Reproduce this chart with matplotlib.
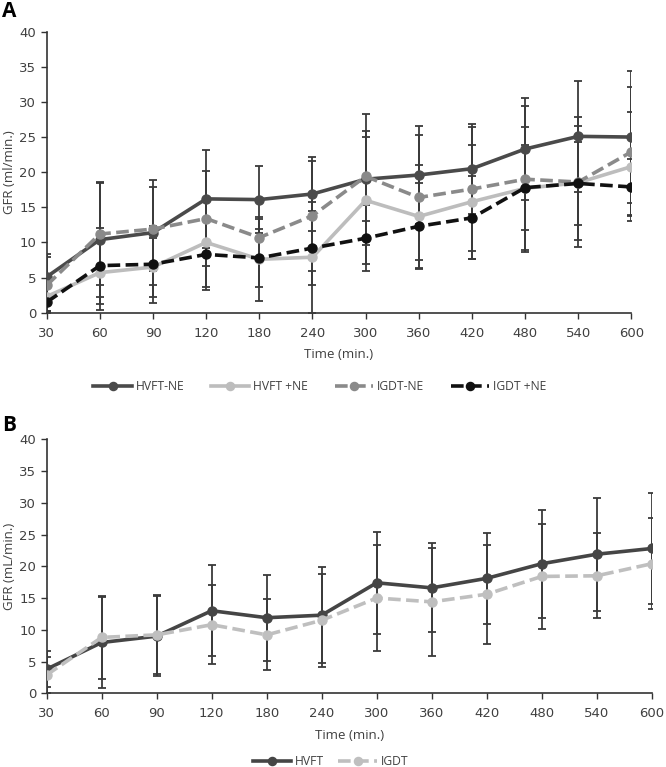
import numpy as np
import matplotlib
matplotlib.use("Agg")
import matplotlib.pyplot as plt

plt.rcParams["font.family"] = ["Open Sans", "DejaVu Sans"]

times = ["30", "60", "90", "120", "180", "240", "300", "360", "420", "480", "540", "600"]

# Panel A
hvft_ne = [5.1, 10.4, 11.4, 16.2, 16.1, 16.9, 19.0, 19.6, 20.5, 23.3, 25.1, 25.0]
hvft_ne_sd = [3.2, 8.2, 7.5, 7.0, 4.8, 5.3, 9.3, 7.0, 6.4, 7.3, 7.9, 9.4]
hvft_pne = [2.3, 5.7, 6.5, 10.0, 7.6, 7.9, 16.0, 13.7, 15.8, 17.7, 18.5, 20.8]
hvft_pne_sd = [2.0, 5.3, 4.2, 6.3, 6.0, 7.9, 9.0, 7.3, 8.1, 8.8, 8.1, 7.7]
igdt_ne = [3.9, 11.2, 11.9, 13.4, 10.7, 13.8, 19.4, 16.4, 17.6, 19.0, 18.6, 22.9]
igdt_ne_sd = [4.0, 7.2, 6.0, 6.7, 2.7, 7.8, 6.4, 8.9, 8.8, 10.4, 9.3, 9.2]
igdt_pne = [1.5, 6.7, 6.9, 8.3, 7.8, 9.2, 10.6, 12.3, 13.5, 17.8, 18.4, 17.9]
igdt_pne_sd = [1.2, 5.4, 5.5, 5.1, 4.1, 5.3, 4.7, 6.1, 5.9, 6.0, 5.9, 4.0]

# Panel B
hvft = [3.8, 8.0, 9.0, 13.0, 11.9, 12.3, 17.4, 16.6, 18.1, 20.4, 21.9, 22.8]
hvft_sd = [2.8, 7.1, 6.3, 7.2, 6.8, 7.6, 8.0, 7.0, 7.2, 8.5, 8.9, 8.7]
igdt = [2.9, 8.8, 9.2, 10.8, 9.2, 11.5, 15.0, 14.4, 15.6, 18.4, 18.5, 20.4]
igdt_sd = [2.8, 6.5, 6.2, 6.2, 5.6, 7.3, 8.3, 8.5, 7.8, 8.3, 6.7, 7.2]

x = np.arange(len(times))
bar_col = "#3a3a3a"
txt_col = "#404040"

fig = plt.figure(figsize=(6.66, 7.67), dpi=100)
axA = fig.add_axes([0.0701, 0.5923, 0.878, 0.3664])
axB = fig.add_axes([0.0701, 0.0961, 0.9085, 0.3312])


def draw(ax, y, sd, color, ls, label):
    ax.errorbar(x, y, yerr=sd, fmt="none", ecolor=bar_col, elinewidth=1.3,
                capsize=2.8, capthick=1.3, zorder=3)
    ax.plot(x, y, color=color, linestyle=ls, linewidth=2.6, marker="o",
            markersize=6.5, label=label, zorder=4,
            dashes=(3.5, 1.5) if ls == "--" else (None, None))


def style(ax, ylabel):
    ax.set_xlim(0, len(times) - 1)
    ax.set_ylim(0, 40)
    ax.set_yticks(range(0, 41, 5))
    ax.set_xticks(x)
    ax.set_xticklabels(times)
    for s in ["top", "right"]:
        ax.spines[s].set_visible(False)
    for s in ["left", "bottom"]:
        ax.spines[s].set_color("#333333")
        ax.spines[s].set_linewidth(1.2)
    ax.tick_params(colors="#333333", labelcolor=txt_col, labelsize=9.5,
                   length=4, width=1.0)
    ax.tick_params(axis="x", pad=6)
    for lab in ax.get_xticklabels() + ax.get_yticklabels():
        lab.set_family("DejaVu Sans")
    ax.set_ylabel(ylabel, fontsize=9.5, color=txt_col, labelpad=2)
    ax.set_xlabel("Time (min.)", fontsize=9.5, color=txt_col, labelpad=6)
    ax.patch.set_alpha(0)


draw(axA, hvft_ne, hvft_ne_sd, "#4a4a4a", "-", "HVFT-NE")
draw(axA, hvft_pne, hvft_pne_sd, "#bdbdbd", "-", "HVFT +NE")
draw(axA, igdt_ne, igdt_ne_sd, "#8a8a8a", "--", "IGDT-NE")
draw(axA, igdt_pne, igdt_pne_sd, "#111111", "--", "IGDT +NE")
style(axA, "GFR (ml/min.)")
axA.legend(loc="upper center", bbox_to_anchor=(0.467, -0.2), ncol=4,
           frameon=False, fontsize=8.7, handlelength=3.2, columnspacing=2.2,
           labelcolor=txt_col, handletextpad=0.3, markerscale=0.9)

draw(axB, hvft, hvft_sd, "#454545", "-", "HVFT")
draw(axB, igdt, igdt_sd, "#bfbfbf", "--", "IGDT")
style(axB, "GFR (mL/min.)")
axB.legend(loc="upper center", bbox_to_anchor=(0.469, -0.2), ncol=2,
           frameon=False, fontsize=8.7, handlelength=3.2, columnspacing=1.2,
           labelcolor=txt_col, handletextpad=0.3, markerscale=0.9)

fig.text(0.003, 0.999, "A", fontsize=15, fontweight="bold", va="top", ha="left")
fig.text(0.003, 0.459, "B", fontsize=15, fontweight="bold", va="top", ha="left")

fig.savefig("out.png", dpi=100)
